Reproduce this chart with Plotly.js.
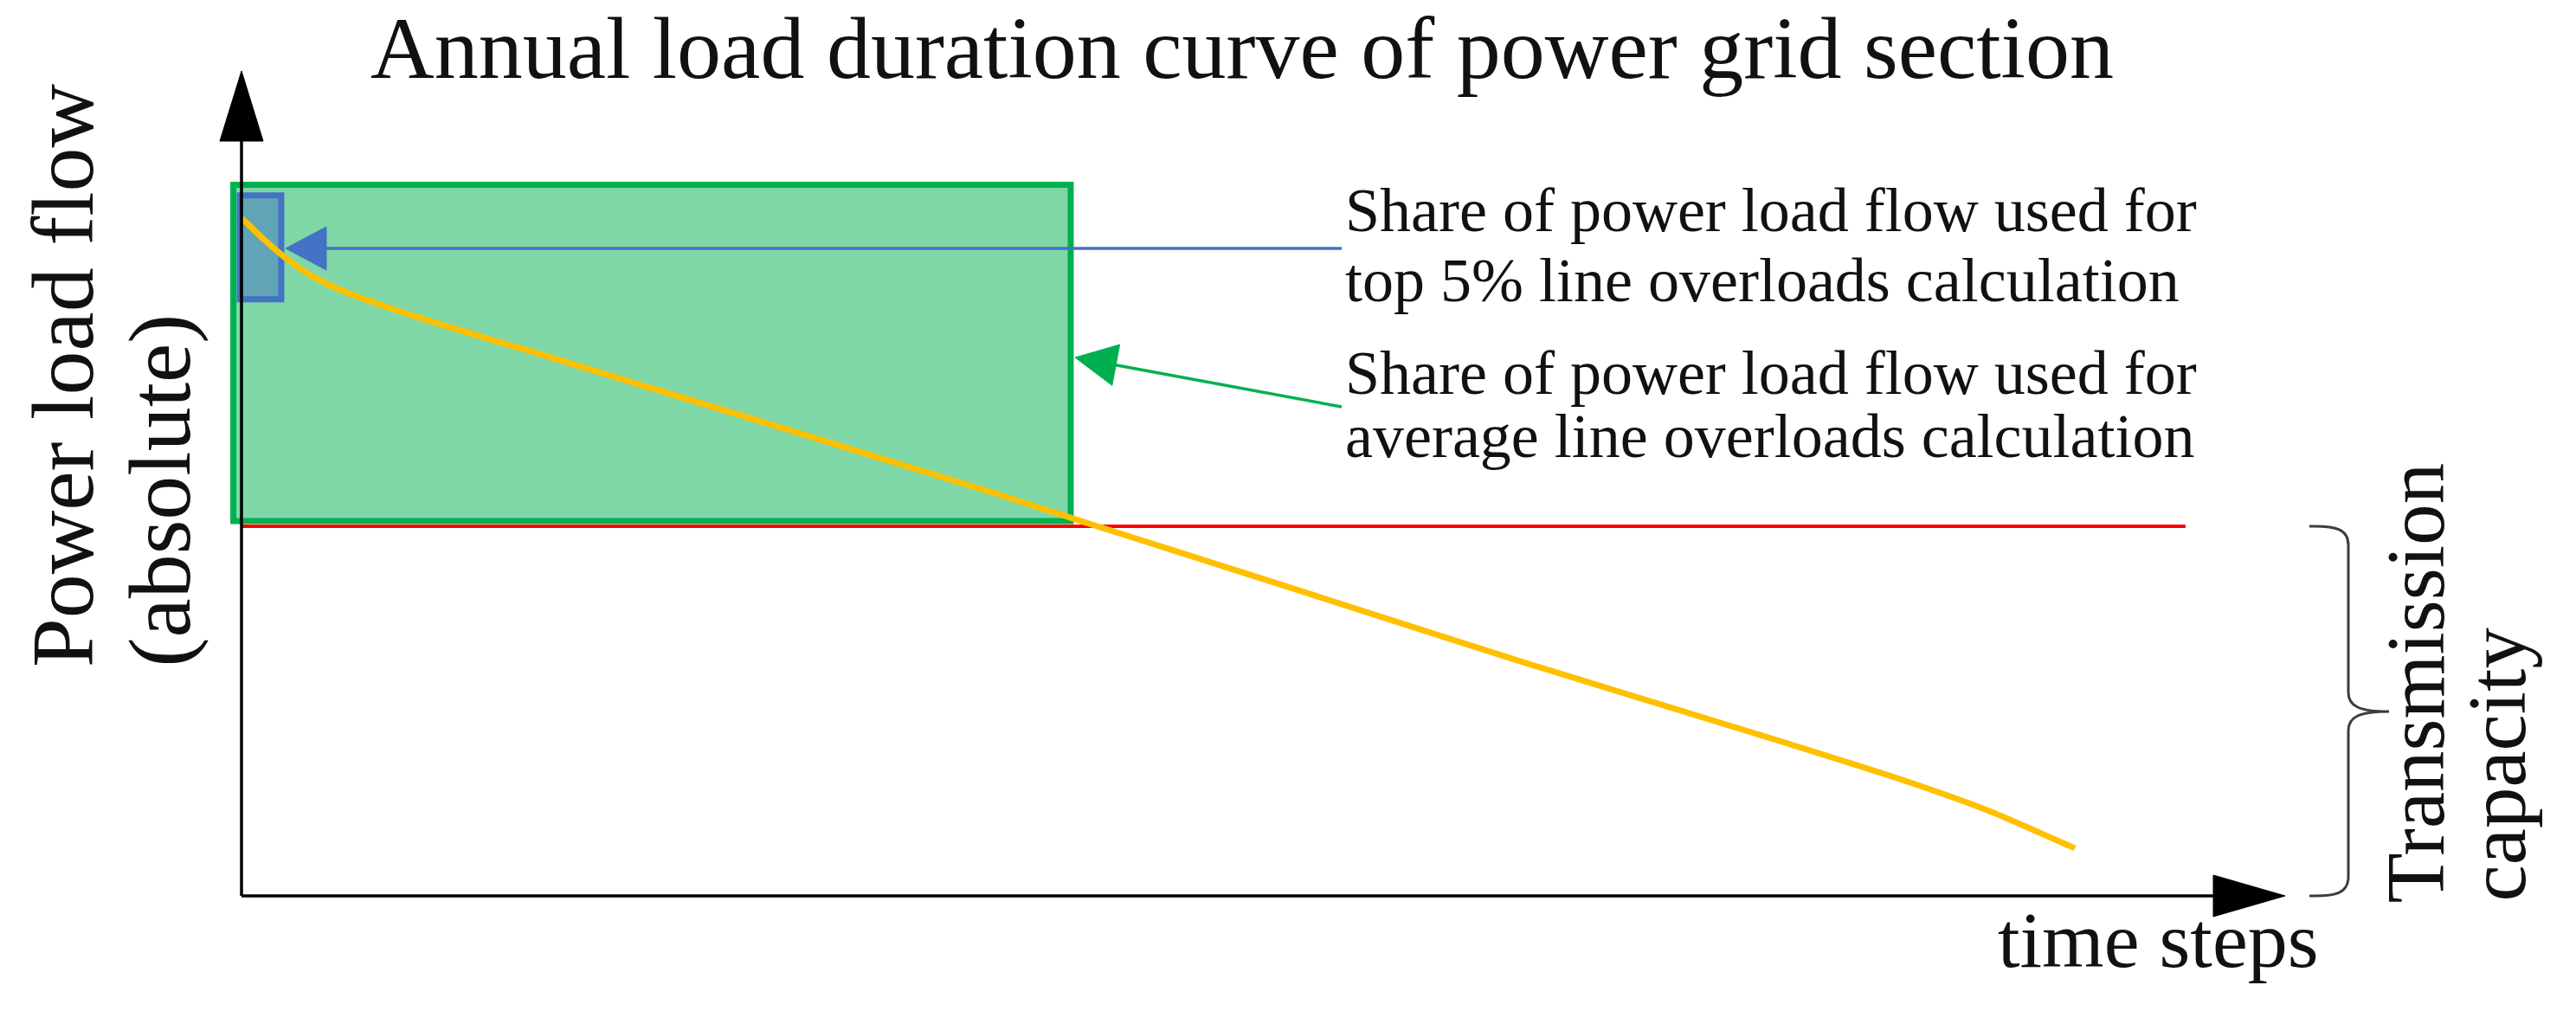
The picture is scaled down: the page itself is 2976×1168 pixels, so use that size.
<!DOCTYPE html>
<html>
<head>
<meta charset="utf-8">
<script src="https://cdn.plot.ly/plotly-3.0.1.min.js"></script>
<style>
  html, body { margin: 0; padding: 0; background: #fff; }
  #chart { width: 2976px; height: 1168px; }
</style>
</head>
<body>
<div id="chart"></div>
<script>
// Annual load duration curve, schematic.
// x = time step (hours of the year, sorted by load), y = load as % of transmission capacity.
const hours   = [0, 115, 204, 321, 459, 666, 942, 1217, 1355, 3602, 4016, 4430, 5050, 6125, 7201, 7945, 8359, 8760];
const loadPct = [183.4, 177.2, 172.9, 168.2, 164.3, 159.9, 154.8, 150.1, 147.8, 108.9, 101.3, 93.9, 82.7, 63.2, 44.5, 31.2, 22.8, 12.9];

const capacityPct   = 100;
const capacitySpanH = [0, 9289];

// share used for average overloads (green) and for top 5% overloads (blue)
const avgSpanH   = [-39, 3962];
const avgSpanPct = [101.4, 192.4];
const topSpanH   = [-8, 190];
const topSpanPct = [161.4, 189.5];

const TITLE   = 'Annual load duration curve of power grid section';
const Y_LINES = ['Power load flow', '(absolute)'];
const R_LINES = ['Transmission', 'capacity'];
const NOTE_TOP = ['Share of power load flow used for', 'top 5% line overloads calculation'];
const NOTE_AVG = ['Share of power load flow used for', 'average line overloads calculation'];
const X_LABEL = 'time steps';

// ---- page geometry (pixels of the 2976x1168 canvas) ----
const W = 2976, H = 1168;
const ORIGIN = { x: 279, y: 1035 };
const PX_PER_H = (2397 - 279) / 8760;
const PX_PER_PCT = 4.27;

const fx = p => p / W;
const fy = p => 1 - p / H;

function pathPx(cmds) {
    // cmds: [['M', x, y], ['C', x1, y1, x2, y2, x, y], ...] in canvas pixels
    return cmds.map(c => {
        const op = c[0];
        if (op === 'Z') return 'Z';
        const nums = [];
        for (let i = 1; i < c.length; i += 2) nums.push(fx(c[i]).toFixed(6), fy(c[i + 1]).toFixed(6));
        return op + nums.join(',');
    }).join(' ');
}

function head(tip, base1, base2, color) {
    return {
        type: 'path', xref: 'paper', yref: 'paper', layer: 'above',
        path: pathPx([['M', ...tip], ['L', ...base1], ['L', ...base2], ['Z']]),
        fillcolor: color, line: { color: color, width: 1 },
    };
}

function segment(a, b, color, width) {
    return {
        type: 'line', xref: 'paper', yref: 'paper', layer: 'above',
        x0: fx(a[0]), y0: fy(a[1]), x1: fx(b[0]), y1: fy(b[1]),
        line: { color: color, width: width },
    };
}

const BLACK = '#000000', GREEN = '#00b050', BLUE = '#4472c4', RED = '#ff0000', GOLD = '#ffc000';

const shapes = [
    // green box: average overloads
    { type: 'rect', xref: 'x', yref: 'y', layer: 'below',
      x0: avgSpanH[0], x1: avgSpanH[1], y0: avgSpanPct[0], y1: avgSpanPct[1],
      fillcolor: 'rgba(0,176,80,0.5)', line: { color: GREEN, width: 7 } },
    // blue box: top 5%
    { type: 'rect', xref: 'x', yref: 'y', layer: 'below',
      x0: topSpanH[0], x1: topSpanH[1], y0: topSpanPct[0], y1: topSpanPct[1],
      fillcolor: 'rgba(68,114,196,0.5)', line: { color: BLUE, width: 7 } },
    // transmission capacity
    { type: 'line', xref: 'x', yref: 'y', layer: 'below',
      x0: capacitySpanH[0], x1: capacitySpanH[1], y0: capacityPct, y1: capacityPct,
      line: { color: RED, width: 4 } },

    // axes
    segment([ORIGIN.x, ORIGIN.y], [ORIGIN.x, 160], BLACK, 3.5),
    segment([ORIGIN.x, ORIGIN.y], [2560, ORIGIN.y], BLACK, 3.5),
    head([279, 82], [254, 163], [304, 163], BLACK),
    head([2640, 1035], [2557, 1011], [2557, 1059], BLACK),

    // blue pointer
    segment([1550, 287], [372, 287], BLUE, 3.5),
    head([330, 287], [377, 262], [377, 312], BLUE),
    // green pointer
    segment([1550, 470], [1285, 421], GREEN, 3.5),
    head([1242, 413], [1293.6, 398.1], [1284.8, 445.3], GREEN),

    // brace for transmission capacity
    { type: 'path', xref: 'paper', yref: 'paper', layer: 'above',
      path: pathPx([
          ['M', 2668, 608], ['C', 2700, 607, 2713, 612, 2713, 630],
          ['L', 2713, 800], ['C', 2713, 816, 2726, 822, 2760, 822],
          ['C', 2726, 822, 2713, 828, 2713, 844],
          ['L', 2713, 1013], ['C', 2713, 1031, 2700, 1036, 2668, 1035],
      ]),
      line: { color: '#3c3c3c', width: 3 } },
];

const SERIF = 'Liberation Serif, Times New Roman, serif';
const ASC = 0.3375; // centre of text box above the baseline, in em

function label(text, xpx, baselinePx, size, xanchor) {
    return {
        xref: 'paper', yref: 'paper', showarrow: false, borderpad: 0,
        x: fx(xpx), y: fy(baselinePx - ASC * size),
        xanchor: xanchor, yanchor: 'middle',
        text: text, font: { family: SERIF, size: size, color: '#111' },
    };
}

function vlabel(text, baselineXpx, bottomPx, size) {
    return {
        xref: 'paper', yref: 'paper', showarrow: false, borderpad: 0, textangle: -90,
        x: fx(baselineXpx - ASC * size), y: fy(bottomPx),
        xanchor: 'center', yanchor: 'bottom',
        text: text, font: { family: SERIF, size: size, color: '#111' },
    };
}

const annotations = [
    label(TITLE, 1435, 90, 102, 'center'),
    label(NOTE_TOP[0], 1553, 267, 72, 'left'),
    label(NOTE_TOP[1], 1553, 348, 72, 'left'),
    label(NOTE_AVG[0], 1553, 455, 72, 'left'),
    label(NOTE_AVG[1], 1553, 528, 72, 'left'),
    label(X_LABEL, 2493, 1117, 92, 'center'),
    vlabel(Y_LINES[0], 107, 772, 102),
    vlabel(Y_LINES[1], 218, 772, 102),
    vlabel(R_LINES[0], 2823, 1044, 95),
    vlabel(R_LINES[1], 2917, 1042, 95),
];

const curve = {
    x: hours, y: loadPct,
    type: 'scatter', mode: 'lines',
    line: { color: GOLD, width: 7, shape: 'spline', smoothing: 0.6 },
    hoverinfo: 'skip', showlegend: false, cliponaxis: false,
};

const layout = {
    width: W, height: H,
    margin: { l: 0, r: 0, t: 0, b: 0, pad: 0 },
    paper_bgcolor: '#ffffff', plot_bgcolor: 'rgba(0,0,0,0)',
    showlegend: false,
    xaxis: { visible: false, fixedrange: true,
             range: [-ORIGIN.x / PX_PER_H, (W - ORIGIN.x) / PX_PER_H] },
    yaxis: { visible: false, fixedrange: true,
             range: [-(H - ORIGIN.y) / PX_PER_PCT, ORIGIN.y / PX_PER_PCT] },
    shapes, annotations,
};

Plotly.newPlot('chart', [curve], layout, { staticPlot: true, displayModeBar: false });
</script>
</body>
</html>
